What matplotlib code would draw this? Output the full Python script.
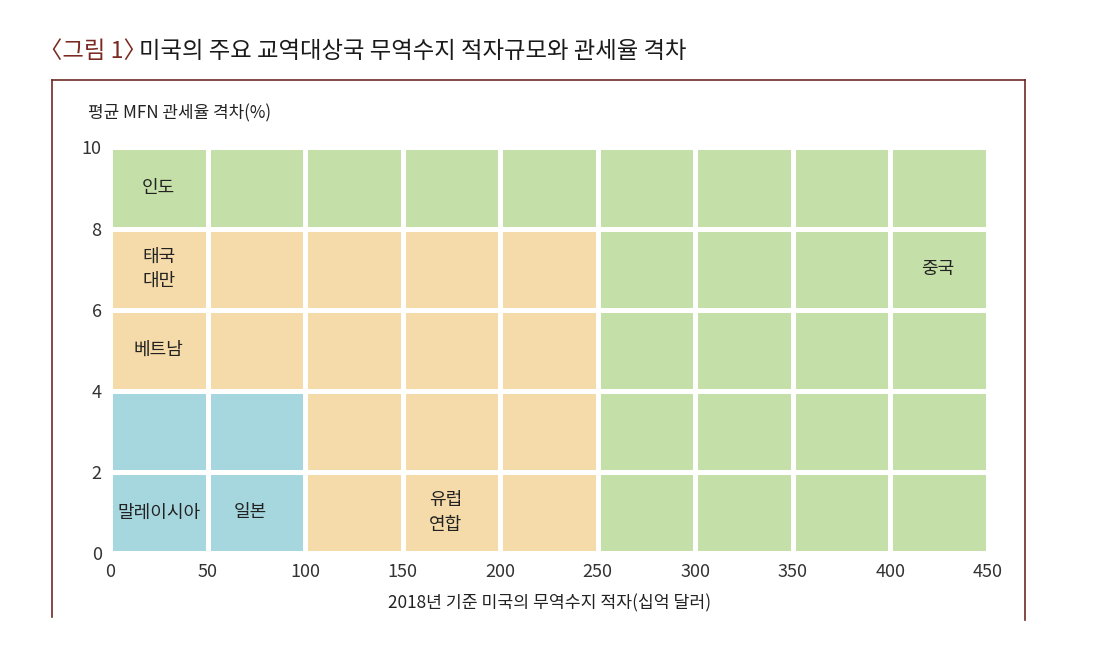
import matplotlib
matplotlib.use("Agg")
import matplotlib.pyplot as plt
from matplotlib.patches import Rectangle
from matplotlib.lines import Line2D
from matplotlib.text import Annotation

plt.rcParams['font.family'] = ['Noto Sans CJK KR', 'DejaVu Sans']

# ---- data ----
x_edges = [0, 50, 100, 150, 200, 250, 300, 350, 400, 450]
y_edges = [0, 2, 4, 6, 8, 10]
# zone of each cell, rows from bottom (0-2) to top (8-10)
zone_rows = [
    ["B", "B", "O", "O", "O", "G", "G", "G", "G"],
    ["B", "B", "O", "O", "O", "G", "G", "G", "G"],
    ["O", "O", "O", "O", "O", "G", "G", "G", "G"],
    ["O", "O", "O", "O", "O", "G", "G", "G", "G"],
    ["G", "G", "G", "G", "G", "G", "G", "G", "G"],
]
zone_colors = {"G": "#c4dfa8", "O": "#f5dbaa", "B": "#a6d6de"}

country_names = ["인도", "태국\n대만", "중국", "베트남", "말레이시아", "일본", "유럽\n연합"]
country_x = [25, 25, 424, 25, 25, 72, 172]
country_y = [9, 7, 7, 5, 1, 1, 1]

x_ticks = [0, 50, 100, 150, 200, 250, 300, 350, 400, 450]
y_ticks = [0, 2, 4, 6, 8, 10]

title_prefix = "〈그림 1〉"
title_main = "미국의 주요 교역대상국 무역수지 적자규모와 관세율 격차"
x_title = "2018년 기준 미국의 무역수지 적자(십억 달러)"
y_title = "평균 MFN 관세율 격차(%)"

# ---- figure ----
W, H = 1120, 657
fig = plt.figure(figsize=(W / 100, H / 100), dpi=100)
ax = fig.add_axes([110 / W, 1 - 553 / H, (988 - 110) / W, (553 - 147.5) / H])

for r, row in enumerate(zone_rows):
    for c, z in enumerate(row):
        x0, x1 = x_edges[c], x_edges[c + 1]
        y0, y1 = y_edges[r], y_edges[r + 1]
        ax.add_patch(Rectangle((x0, y0), x1 - x0, y1 - y0,
                               facecolor=zone_colors[z], edgecolor="white",
                               linewidth=3.6))

for name, x, y in zip(country_names, country_x, country_y):
    ax.text(x, y, name, ha="center", va="center", fontsize=13,
            color="#222222", linespacing=1.45)

ax.set_xlim(x_edges[0], x_edges[-1])
ax.set_ylim(y_edges[0], y_edges[-1])
ax.set_xticks(x_ticks)
ax.set_yticks(y_ticks)
ax.tick_params(length=0, labelsize=13, colors="#333333")
ax.tick_params(axis="x", pad=7)
ax.tick_params(axis="y", pad=6)
for s in ax.spines.values():
    s.set_visible(False)

fig.text(550 / W, 1 - 603 / H, x_title, ha="center", va="center",
         fontsize=12.4, color="#222222")
fig.text(88 / W, 1 - 113 / H, y_title, ha="left", va="center",
         fontsize=12.2, color="#222222")

t1 = fig.text(39 / W, 1 - 52 / H, title_prefix, ha="left", va="center",
              fontsize=16.8, color="#7a2a22", fontweight="medium")
fig.add_artist(Annotation(
    title_main, xy=(1, 0.5), xycoords=t1, xytext=(-6, 0),
    textcoords="offset points", ha="left", va="center",
    fontsize=16.8, color="#1a1a1a", fontweight="medium"))

# frame
fc = "#6e2b25"
fig.add_artist(Line2D([52 / W, 1025 / W], [1 - 80 / H, 1 - 80 / H], color=fc, lw=1.2))
fig.add_artist(Line2D([52 / W, 52 / W], [1 - 80 / H, 1 - 617 / H], color=fc, lw=1.2))
fig.add_artist(Line2D([1025 / W, 1025 / W], [1 - 80 / H, 1 - 620 / H], color=fc, lw=1.2))

fig.savefig("out.png", dpi=100, facecolor="white")
